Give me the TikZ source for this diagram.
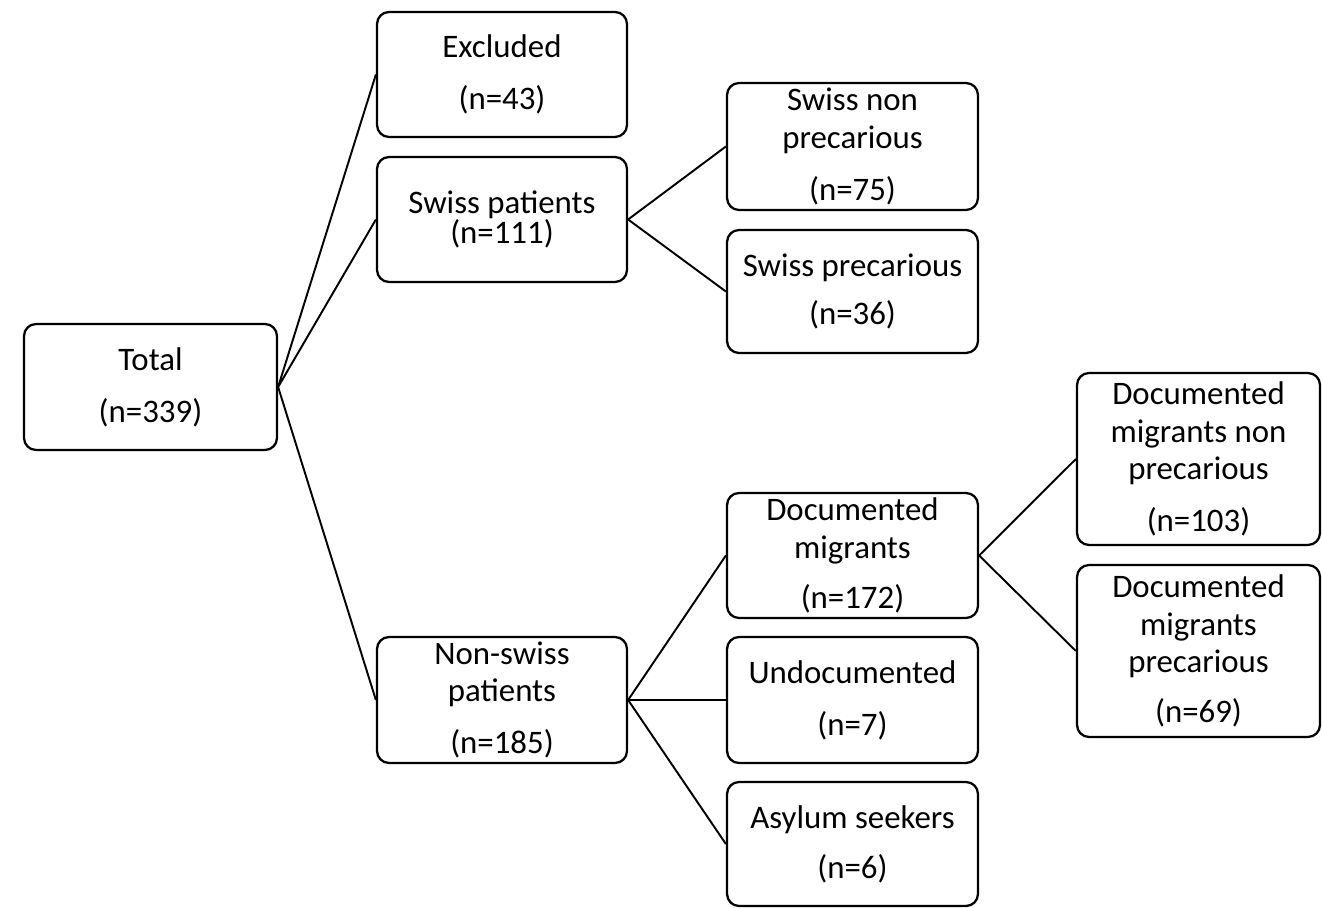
\documentclass[tikz,border=0pt]{standalone}
\usepackage{fontspec}
\setmainfont{Carlito}

\begin{document}
\begin{tikzpicture}[x=0.02cm,y=-0.02cm,font=\fontsize{18.7}{21.3}\selectfont,
  box/.style={draw,line width=1.3pt,rounded corners=0.24cm,align=center,inner sep=0pt,minimum width=#1},
  box/.default=5cm,
  link/.style={line width=1.1pt}]
\useasboundingbox (0,0) rectangle (1322,908);
% first level
\node [box=5.06cm,minimum height=2.52cm] (total) at (150.5,387) {Total\\[0.29cm](n=339)};
\node [box,minimum height=2.5cm] (excl) at (502,74.5) {Excluded\\[0.29cm](n=43)};
\node [box,minimum height=2.5cm] (swiss) at (502,219.5) {Swiss patients\\[-0.15cm](n=111)};
\node [box,minimum height=2.52cm] (nonswiss) at (502,700) {Non-swiss\\patients\\[0.29cm](n=185)};
% second level
\node [box=5.02cm,minimum height=2.54cm] (snp) at (852.5,146.5) {Swiss non\\precarious\\[0.29cm](n=75)};
\node [box=5.02cm,minimum height=2.46cm] (sp) at (852.5,291.5) {Swiss precarious\\[0.22cm](n=36)};
\node [box=5.02cm,minimum height=2.5cm] (dm) at (852.5,555.5) {Documented\\migrants\\[0.25cm](n=172)};
\node [box=5.02cm,minimum height=2.52cm] (undoc) at (852.5,700) {Undocumented\\[0.29cm](n=7)};
\node [box=5.02cm,minimum height=2.48cm] (asyl) at (852.5,844) {Asylum seekers\\[0.25cm](n=6)};
% third level
\node [box=4.86cm,minimum height=3.44cm] (dmnp) at (1198.5,459) {Documented\\migrants non\\precarious\\[0.29cm](n=103)};
\node [box=4.86cm,minimum height=3.44cm] (dmp) at (1198.5,651) {Documented\\migrants\\precarious\\[0.25cm](n=69)};
% links
\foreach \kid in {excl,swiss,nonswiss} \draw [link] (total.east) -- (\kid.west);
\foreach \kid in {snp,sp} \draw [link] (swiss.east) -- (\kid.west);
\foreach \kid in {dm,undoc,asyl} \draw [link] (nonswiss.east) -- (\kid.west);
\foreach \kid in {dmnp,dmp} \draw [link] (dm.east) -- (\kid.west);
\end{tikzpicture}
\end{document}
